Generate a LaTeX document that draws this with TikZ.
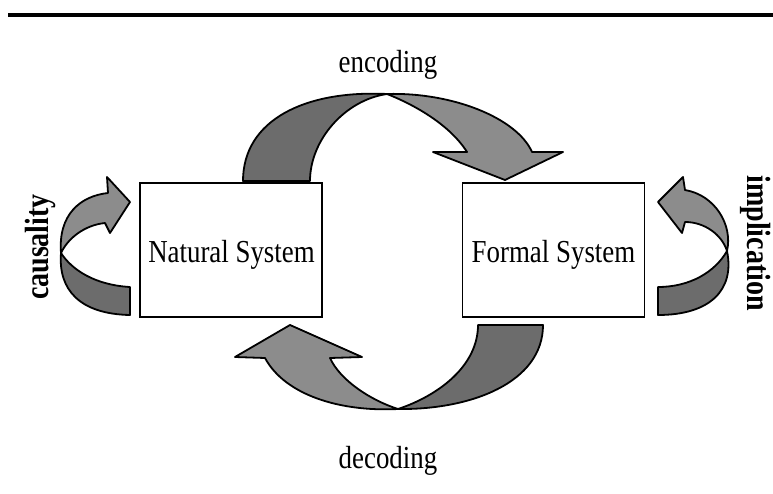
\documentclass[tikz,border=0pt]{standalone}
\usepackage{fontspec}
\setmainfont{Liberation Serif}
\definecolor{arrdark}{HTML}{6C6C6C}
\definecolor{arrlight}{HTML}{8C8C8C}
\tikzset{
  ribdark/.style={fill=arrdark, draw=black, line width=1.8pt, line join=round},
  riblight/.style={fill=arrlight, draw=black, line width=1.8pt, line join=round},
  sysbox/.style={draw=black, line width=1.5pt, minimum width=182pt, minimum height=134pt, inner sep=0pt},
  lbl/.style={inner sep=0pt, anchor=base, font=\fontsize{32}{36}\selectfont},
  sidelbl/.style={inner sep=0pt, anchor=base, font=\bfseries\fontsize{28}{32}\selectfont}
}
\begin{document}
\begin{tikzpicture}[x=1pt,y=-1pt]
\useasboundingbox (0,0) rectangle (773,493);
% top rule
\draw[line width=3.5pt] (8,15) -- (773,15);
% boxes
\node[sysbox] (nat) at (231,250) {};
\node[sysbox] (form) at (553.5,250) {};
\node[lbl] (natl) at (231.5,262) {\scalebox{0.84}[1]{Natural System}};
\node[lbl] (forml) at (553.5,262) {\scalebox{0.84}[1]{Formal System}};
% labels
\node[lbl] (enc) at (388,72) {\scalebox{0.84}[1]{encoding}};
\node[lbl] (dec) at (388,468) {\scalebox{0.84}[1]{decoding}};
\node[sidelbl, rotate=90] (cau) at (48,247) {\scalebox{1}[1.2]{causality}};
\node[sidelbl, rotate=-90] (imp) at (747,243) {\scalebox{1}[1.2]{implication}};
% encoding arrow
\draw[ribdark] (243,181) .. controls (243,120) and (305,90) .. (387,94)
   .. controls (345,100) and (310,140) .. (310,181) -- cycle;
\draw[riblight] (387,94) .. controls (452,92) and (517,118) .. (532,152)
   -- (563,152) -- (505,180) -- (433,152) -- (467,152)
   .. controls (450,125) and (415,105) .. (387,94) -- cycle;
% decoding arrow
\draw[ribdark] (543,325) .. controls (543,383) and (470,410) .. (398,409)
   .. controls (440,395) and (478,365) .. (478,325) -- cycle;
\draw[riblight] (398,409) .. controls (340,412) and (285,395) .. (265,358)
   -- (235,357) -- (290,325) -- (362,357) -- (330,358)
   .. controls (340,380) and (370,400) .. (398,409) -- cycle;
% causality arrow
\draw[riblight] (108,193) -- (107,177) -- (130,202) -- (110,233) -- (105,223)
   .. controls (85,225) and (68,238) .. (61,253)
   .. controls (58,215) and (80,196) .. (108,193) -- cycle;
\draw[ribdark] (61,253) .. controls (58,290) and (80,314) .. (130,315)
   -- (130,287) .. controls (95,285) and (72,270) .. (61,253) -- cycle;
% implication arrow
\draw[riblight] (685,190) -- (683,177) -- (658,202) -- (682,233) -- (685,222)
   .. controls (705,222) and (722,235) .. (727,251)
   .. controls (733,225) and (715,195) .. (685,190) -- cycle;
\draw[ribdark] (727,251) .. controls (735,290) and (710,315) .. (658,315)
   -- (658,287) .. controls (690,287) and (715,272) .. (727,251) -- cycle;
\end{tikzpicture}
\end{document}
